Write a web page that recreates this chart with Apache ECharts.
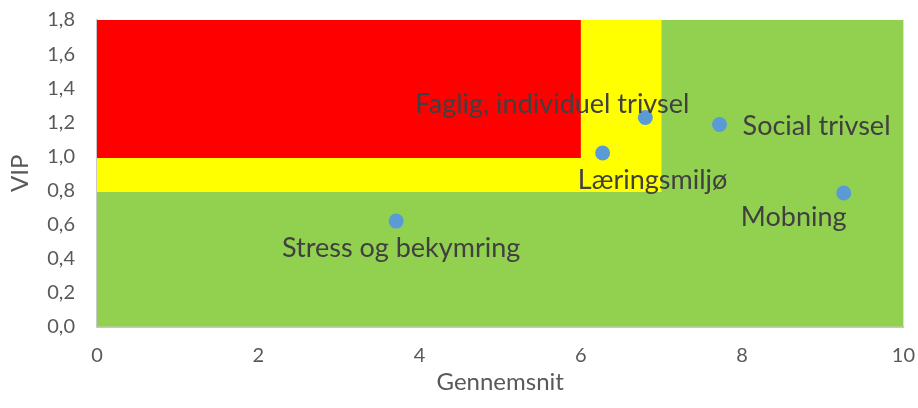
<!DOCTYPE html>
<html>
<head>
<meta charset="utf-8">
<script src="https://cdn.jsdelivr.net/npm/echarts@6/dist/echarts.min.js"></script>
<style>html,body{margin:0;padding:0;background:#fff}#c{width:918px;height:408px}</style>
</head>
<body>
<div id="c"></div>
<script>
// Data
var names = ['Faglig, individuel trivsel', 'Social trivsel', 'Læringsmiljø', 'Mobning', 'Stress og bekymring'];
var xValues = [6.80, 7.72, 6.27, 9.26, 3.71];
var yValues = [1.228, 1.186, 1.019, 0.784, 0.619];
var xTicks = [0, 2, 4, 6, 8, 10];
var yTicks = [0, 0.2, 0.4, 0.6, 0.8, 1.0, 1.2, 1.4, 1.6, 1.8];
// zones: [x0, y0, x1, y1]
var greenZone = [0, 0, 10, 1.8];
var yellowZone = [0, 0.79, 7, 1.8];
var redZone = [0, 0.99, 6, 1.8];

// label placement (pixel offsets of label centre from point centre)
var labelOffsets = {
  'Faglig, individuel trivsel': [-93, -13],
  'Social trivsel': [97, 2],
  'Læringsmiljø': [50, 27],
  'Mobning': [-50, 24],
  'Stress og bekymring': [5, 27]
};

var data = names.map(function (n, i) {
  return {name: n, value: [xValues[i], yValues[i]], label: {offset: labelOffsets[n]}};
});

function zone(z, color) {
  return [{coord: [z[0], z[1]], itemStyle: {color: color}}, {coord: [z[2], z[3]]}];
}

var font = 'Lato';
var chart = echarts.init(document.getElementById('c'), null, {renderer: 'canvas'});
chart.setOption({
  animation: false,
  grid: {left: 96, right: 13, top: 20, bottom: 81.5},
  xAxis: {
    type: 'value', min: xTicks[0], max: xTicks[xTicks.length - 1], interval: 2,
    name: 'Gennemsnit', nameLocation: 'middle', nameGap: 35,
    nameTextStyle: {fontFamily: font, fontSize: 24, color: '#595959'},
    axisLine: {show: true, lineStyle: {color: '#c8c8c8', width: 2}},
    axisTick: {show: false},
    splitLine: {show: false},
    axisLabel: {fontFamily: font, fontSize: 20, color: '#595959', margin: 19}
  },
  yAxis: {
    type: 'value', min: yTicks[0], max: yTicks[yTicks.length - 1], interval: 0.2,
    name: 'VIP', nameLocation: 'middle', nameGap: 65,
    nameTextStyle: {fontFamily: font, fontSize: 24, color: '#595959'},
    axisLine: {show: true, lineStyle: {color: '#c8c8c8', width: 2}},
    axisTick: {show: false},
    splitLine: {show: false},
    axisLabel: {fontFamily: font, fontSize: 20, color: '#595959', margin: 22,
      formatter: function (v) { return v.toFixed(1).replace('.', ','); }}
  },
  series: [{
    type: 'scatter',
    symbolSize: 15,
    itemStyle: {color: '#5b9bd5', opacity: 1},
    label: {show: true, position: 'inside', align: 'center', verticalAlign: 'middle',
      formatter: '{b}', fontFamily: font, fontSize: 27, color: '#404040'},
    data: data,
    markArea: {
      silent: true,
      z: 1,
      data: [zone(greenZone, '#92d050'), zone(yellowZone, '#ffff00'), zone(redZone, '#ff0000')]
    },
    z: 5
  }]
});
</script>
</body>
</html>
